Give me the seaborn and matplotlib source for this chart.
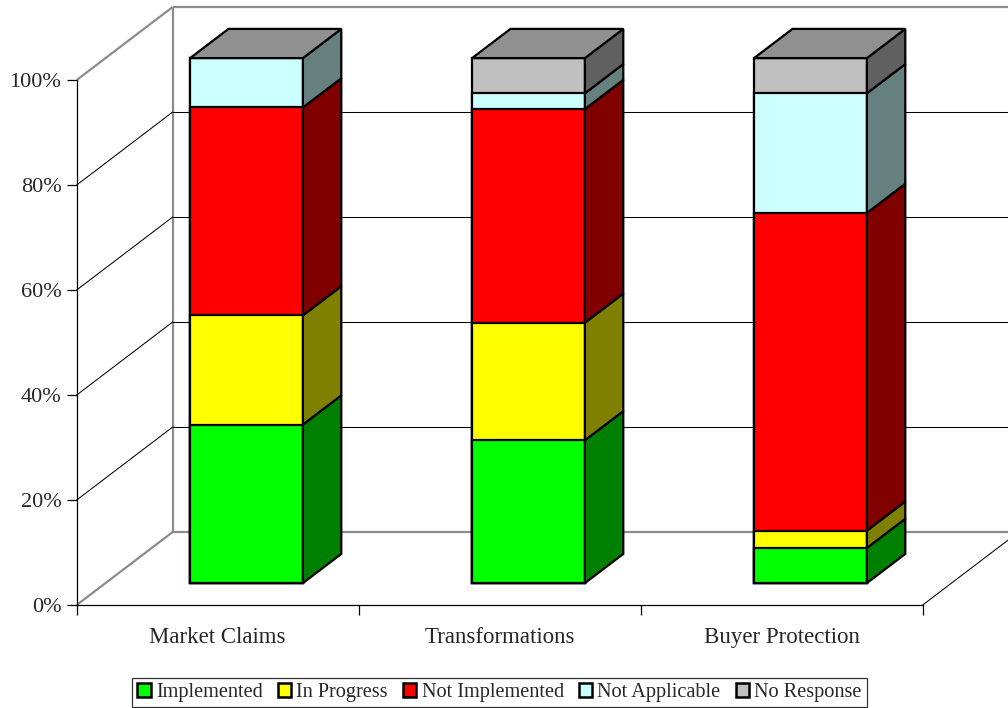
import matplotlib
matplotlib.use("Agg")
import matplotlib.pyplot as plt
from matplotlib.patches import Polygon, Patch
import seaborn as sns

# ---- data (percent of responses) ----
categories = ["Market Claims", "Transformations", "Buyer Protection"]
statuses = ["Implemented", "In Progress", "Not Implemented", "Not Applicable", "No Response"]
implemented = [30.2, 27.2, 6.7]
in_progress = [20.8, 22.4, 3.3]
not_implemented = [39.6, 40.7, 60.5]
not_applicable = [9.4, 3.0, 22.8]
no_response = [0.0, 6.7, 6.7]
y_ticks = [0, 20, 40, 60, 80, 100]
y_tick_labels = ["0%", "20%", "40%", "60%", "80%", "100%"]

series = [implemented, in_progress, not_implemented, not_applicable, no_response]
front_colors = ["#00FF00", "#FFFF00", "#FF0000", "#CCFFFF", "#C0C0C0"]
side_colors = ["#008000", "#808000", "#800000", "#668080", "#606060"]
top_color = "#909090"
wall_color = "#8C8C8C"

sns.set_style("white")
plt.rcParams["font.family"] = ["Liberation Serif", "DejaVu Serif"]

# oblique projection: full depth of the floor expressed in data units
DX = 96 / 282.0
DY = 73 / 5.25
D_FRONT, D_BACK = 0.3, 0.7      # bar depth band
BAR_W = 0.4                     # bar width inside a category slot
EDGE_LW = 1.6

fig = plt.figure(figsize=(10.08, 7.08), dpi=100)
ax = fig.add_axes([0, 0, 1, 1])
n = len(categories)

# ---- walls, floor and gridlines ----
wall_kw = dict(color=wall_color, lw=1.6, zorder=1, solid_capstyle="butt")
grid_kw = dict(color="black", lw=0.75, zorder=1)
ax.plot([DX, DX], [DY, 100 + DY], **wall_kw)                 # back wall left edge
ax.plot([DX, n + DX], [100 + DY, 100 + DY], **wall_kw)       # back wall top edge
ax.plot([DX, n + DX], [DY, DY], **wall_kw)                   # floor back edge
ax.plot([0, DX], [100, 100 + DY], **wall_kw)                 # side wall top edge
ax.plot([0, DX], [0, DY], **wall_kw)                         # floor left edge
ax.plot([n, n + DX], [0, DY], **grid_kw)                     # floor right edge
for v in y_ticks[1:-1]:
    ax.plot([0, DX], [v, v + DY], **grid_kw)
    ax.plot([DX, n + DX], [v + DY, v + DY], **grid_kw)

# ---- front faces: cumulative bars drawn from the top series down ----
front_centers = [i + 0.5 + D_FRONT * DX for i in range(n)]
cumulative = []
running = [0.0] * n
for s in series:
    running = [r + v for r, v in zip(running, s)]
    cumulative.append(list(running))

for k in reversed(range(len(series))):
    sns.barplot(x=front_centers, y=cumulative[k], native_scale=True, width=BAR_W,
                color=front_colors[k], saturation=1, edgecolor="black",
                linewidth=EDGE_LW, bottom=D_FRONT * DY, errorbar=None,
                ax=ax, zorder=3)

# ---- side and top faces ----
for i in range(n):
    xl = i + 0.5 - BAR_W / 2
    xr = i + 0.5 + BAR_W / 2
    lo = 0.0
    for k, s in enumerate(series):
        hi = lo + s[i]
        if s[i] > 0:
            side = [(xr + D_FRONT * DX, lo + D_FRONT * DY),
                    (xr + D_BACK * DX, lo + D_BACK * DY),
                    (xr + D_BACK * DX, hi + D_BACK * DY),
                    (xr + D_FRONT * DX, hi + D_FRONT * DY)]
            ax.add_patch(Polygon(side, closed=True, facecolor=side_colors[k],
                                 edgecolor="black", lw=EDGE_LW, zorder=3))
        lo = hi
    top = [(xl + D_FRONT * DX, lo + D_FRONT * DY),
           (xr + D_FRONT * DX, lo + D_FRONT * DY),
           (xr + D_BACK * DX, lo + D_BACK * DY),
           (xl + D_BACK * DX, lo + D_BACK * DY)]
    ax.add_patch(Polygon(top, closed=True, facecolor=top_color,
                         edgecolor="black", lw=EDGE_LW, zorder=3))

# ---- axes ----
ax.set_xlim(-76.7 / 282, (1008 - 76.7) / 282)
ax.set_ylim((605 - 708) / 5.25, 605 / 5.25)
ax.set_xlabel("")
ax.set_ylabel("")
ax.grid(False)

for side in ("top", "right"):
    ax.spines[side].set_visible(False)
ax.spines["left"].set_position(("data", 0))
ax.spines["left"].set_bounds(0, 100)
ax.spines["bottom"].set_position(("data", 0))
ax.spines["bottom"].set_bounds(0, n)
for side in ("left", "bottom"):
    ax.spines[side].set_color("black")
    ax.spines[side].set_linewidth(0.9)

ax.set_yticks(y_ticks)
ax.set_yticklabels(y_tick_labels)
ax.tick_params(axis="y", direction="out", length=7, width=0.9, pad=4,
               labelsize=16, left=True, color="black")
ax.set_xticks([i + 0.5 for i in range(n)])
ax.set_xticklabels(categories)
ax.set_xticks(list(range(n + 1)), minor=True)
ax.tick_params(axis="x", which="major", length=0, pad=16, labelsize=16.5)
ax.tick_params(axis="x", which="minor", direction="out", length=7, width=0.9,
               bottom=True, color="black")

# ---- legend ----
handles = [Patch(facecolor=c, edgecolor="black", linewidth=1.8) for c in front_colors]
leg = fig.legend(handles, statuses, loc="center", bbox_to_anchor=(0.4955, 0.0219),
                 ncol=5, frameon=True, fancybox=False, fontsize=14.6,
                 handlelength=0.66, handleheight=0.66, handletextpad=0.26,
                 columnspacing=0.74, borderpad=0.25, borderaxespad=0)
leg.get_frame().set_edgecolor("black")
leg.get_frame().set_linewidth(0.9)

fig.savefig("out.png", dpi=100)
